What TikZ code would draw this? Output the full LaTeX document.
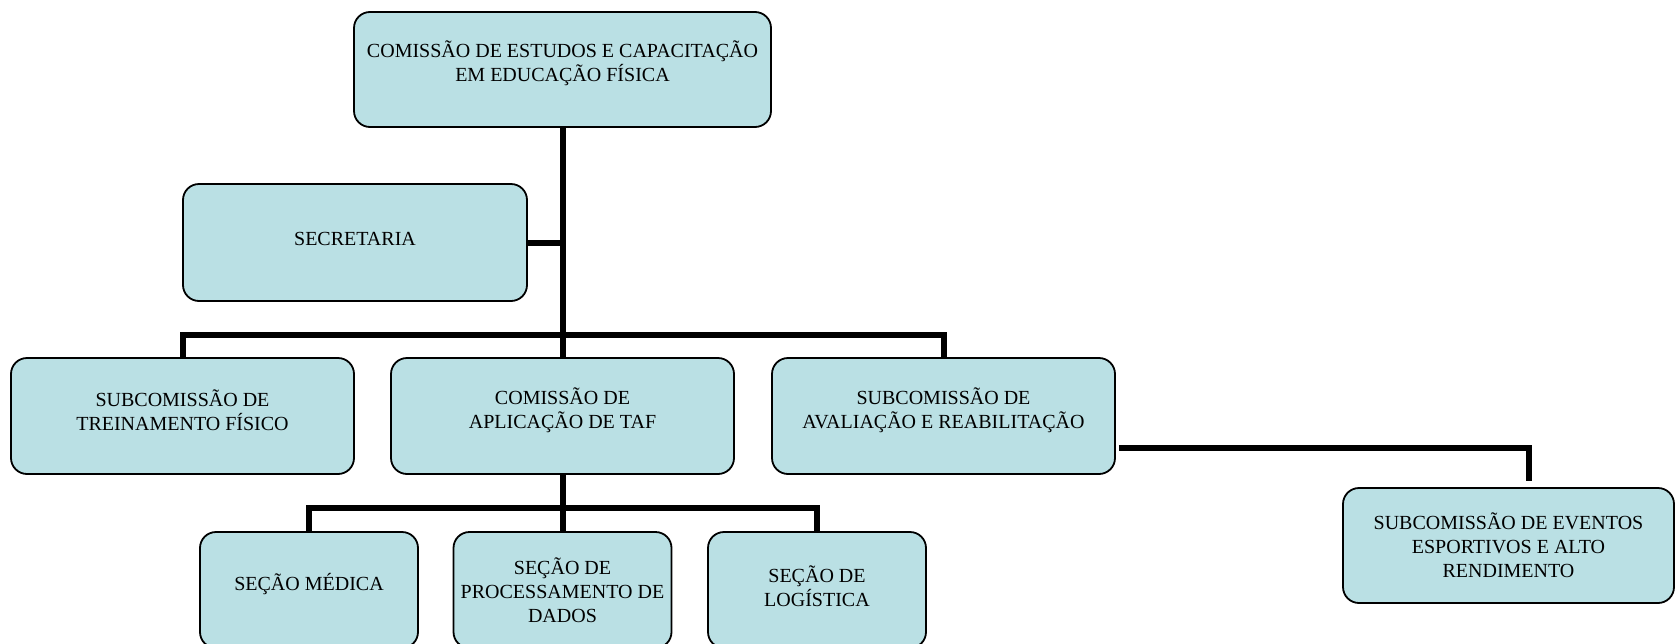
\documentclass[tikz,border=0pt]{standalone}
\usepackage{fontspec}
\setmainfont{Liberation Serif}
\usetikzlibrary{positioning, calc}
\definecolor{boxFill}{HTML}{BAE0E4}
\definecolor{lineBlack}{HTML}{000000}

\begin{document}
\begin{tikzpicture}[
  x=1pt, y=-1pt,
  every node/.style={font=\fontsize{20}{24}\selectfont},
  unit/.style={rectangle, rounded corners=16pt, draw=lineBlack, line width=1.8pt,
               fill=boxFill, align=center, inner sep=0pt},
  wideU/.style={unit, minimum width=343pt, minimum height=116pt},
  smallU/.style={unit, minimum width=218pt, minimum height=116pt},
  lift/.style={text depth=#1},
  link/.style={draw=lineBlack, line width=6pt, line join=miter},
]
  \clip (0,0) rectangle (1676,643);

  \node[unit, lift=16pt, minimum width=417pt, minimum height=115pt] (cecef) at (562.5,69.5)
        {COMISSÃO DE ESTUDOS E CAPACITAÇÃO\\EM EDUCAÇÃO FÍSICA};
  \node[wideU, lift=8pt, minimum width=344pt, minimum height=117pt] (secr) at (355,242.5) {SECRETARIA};

  \node[wideU, lift=11pt] (treino) at (182.5,416) {SUBCOMISSÃO DE\\TREINAMENTO FÍSICO};
  \node[wideU, lift=15pt] (taf) at (562.5,416) {COMISSÃO DE\\APLICAÇÃO DE TAF};
  \node[wideU, lift=15pt] (aval) at (943.5,416) {SUBCOMISSÃO DE\\AVALIAÇÃO E REABILITAÇÃO};

  \node[smallU, lift=16pt] (medica) at (309,590) {SEÇÃO MÉDICA};
  \node[smallU] (dados) at (562.5,590) {SEÇÃO DE\\PROCESSAMENTO DE\\DADOS};
  \node[smallU, lift=8pt] (logist) at (817,590) {SEÇÃO DE\\LOGÍSTICA};

  \node[unit, minimum width=331pt, minimum height=115pt] (eventos) at (1508.5,545.5)
        {SUBCOMISSÃO DE EVENTOS\\ESPORTIVOS E ALTO\\RENDIMENTO};

  % connectors
  \coordinate (bar1) at (562.5,335);
  \coordinate (bar2) at (562.5,508);
  \coordinate (evIn) at ([xshift=20pt, yshift=6pt]eventos.north);

  \draw[link] (cecef.south) -- (taf.north);
  \draw[link] (secr.east) -- (cecef.south |- secr.east);
  \draw[link] (treino.north) |- (bar1) -| (aval.north);
  \draw[link] (taf.south) -- (dados.north);
  \draw[link] (medica.north) |- (bar2) -| (logist.north);
  \draw[link] ([xshift=3pt, yshift=-32pt]aval.east) -| (evIn);
\end{tikzpicture}
\end{document}
